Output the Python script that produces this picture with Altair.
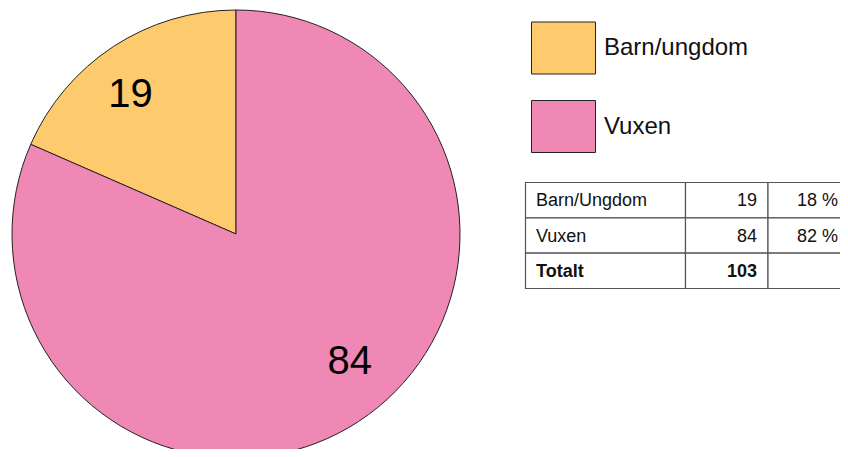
import altair as alt
import pandas as pd

# ---- data ----
CATEGORIES = ["Barn/ungdom", "Vuxen"]
VALUES = [19, 84]
STACK_ORDER = [1, 0]
COLORS = ["#FDCB6E", "#F088B5"]

TABLE_LABELS = ["Barn/Ungdom", "Vuxen", "Totalt"]
TABLE_COUNTS = ["19", "84", "103"]
TABLE_PCTS = ["18 %", "82 %", ""]

FONT = "Liberation Sans"

pie_df = pd.DataFrame({"cat": CATEGORIES, "value": VALUES, "ord": STACK_ORDER})

table_df = pd.DataFrame({
    "row": list(range(len(TABLE_LABELS))),
    "label": TABLE_LABELS,
    "count": TABLE_COUNTS,
    "pct": TABLE_PCTS,
})
table_df["row2"] = table_df["row"] + 1
table_df["mid"] = table_df["row"] + 0.5

CX, CY, R = 228, 226, 224

legend = alt.Legend(
    title=None, orient="none", legendX=523, legendY=7.5, padding=0,
    symbolType="M-1,-0.8125H1V0.8125H-1Z", symbolSize=4096,
    symbolStrokeColor="#222", symbolStrokeWidth=1, symbolOpacity=1,
    labelFont=FONT, labelFontSize=24, labelColor="#111", labelOffset=8,
    rowPadding=17.5, labelLimit=400,
)

pie = alt.Chart(pie_df).mark_arc(radius=R, stroke="#222", strokeWidth=1).encode(
    theta=alt.Theta("value:Q", stack=True),
    order=alt.Order("ord:Q"),
    color=alt.Color("cat:N", scale=alt.Scale(domain=CATEGORIES, range=COLORS), legend=legend),
    x=alt.value(CX), y=alt.value(CY),
)

def pie_label(cat, dx, dy, radius):
    return alt.Chart(pie_df).transform_window(
        cum="sum(value)", sort=[alt.SortField("ord")]
    ).transform_calculate(
        mid="datum.cum - datum.value / 2"
    ).transform_filter(
        alt.datum.cat == cat
    ).mark_text(
        font=FONT, fontSize=40, color="#000", radius=radius, dx=dx, dy=dy
    ).encode(
        theta=alt.Theta("mid:Q", stack=None),
        text="value:Q",
        x=alt.value(CX), y=alt.value(CY),
    )

lab19 = pie_label("Barn/ungdom", -9, 8, 176)
lab84 = pie_label("Vuxen", 20, -15, 171)

ys = alt.Scale(domain=[0, 3], range=[174.5, 280.5], nice=False, zero=False)

def col_rect(x0, x1):
    return alt.Chart(table_df).mark_rect(fill="white", stroke="#555", strokeWidth=1.2).encode(
        x=alt.value(x0), x2=alt.value(x1),
        y=alt.Y("row:Q", scale=ys, axis=None), y2="row2:Q",
    )

rects = [col_rect(517.5, 677.5), col_rect(677.5, 760), col_rect(760, 860)]

def col_text(field, xpos, align, bold):
    base = alt.Chart(table_df)
    if bold:
        base = base.transform_filter(alt.datum.row == 2)
    else:
        base = base.transform_filter(alt.datum.row < 2)
    return base.mark_text(
        font=FONT, fontSize=18, color="#111", align=align, baseline="middle",
        fontWeight="bold" if bold else "normal", dy=1,
    ).encode(
        x=alt.value(xpos),
        y=alt.Y("mid:Q", scale=ys, axis=None),
        text=f"{field}:N",
    )

texts = []
for b in (False, True):
    texts.append(col_text("label", 528, "left", b))
    texts.append(col_text("count", 749, "right", b))
    texts.append(col_text("pct", 830, "right", b))

chart = alt.layer(pie, lab19, lab84, *rects, *texts).properties(
    width=832, height=441,
    autosize=alt.AutoSizeParams(type="none"),
    padding=0,
).configure_view(stroke=None)

chart.save("out.html", embed_options={"renderer": "svg", "actions": False})
